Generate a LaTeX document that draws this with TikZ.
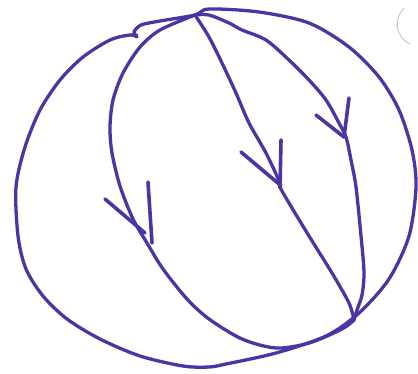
\documentclass[tikz,border=0pt]{standalone}
\begin{document}
\begin{tikzpicture}[x=1pt,y=-1pt,
  pen/.style={draw={rgb,255:red,76;green,52;blue,164},line width=3.3pt,line cap=round,line join=round},
  arrowpen/.style={pen,line width=3.6pt}]
\useasboundingbox (0,0) rectangle (418,373);
\coordinate (T) at (195,15);
\coordinate (B) at (354,320);
% outer circle
\draw[pen] plot[smooth,tension=0.5] coordinates {(137,37)(130,35)(110,40)(83,57)(60,80)(40,110)(25,147)(16,187)(18,236)(26,269)(43,296)(67,319)(100,339)(140,356)(183,366)(209,367)(226,364)(276,353)(326,336)(359,313)(389,279)(409,236)(416,187)(412,150)(399,110)(379,77)(349,47)(309,23)(259,12)(209,9)(T)(160,21)(141,25)(134,32)(137,36)};
% left curve
\draw[pen] plot[smooth,tension=0.5] coordinates {(T)(160,30)(140,47)(123,73)(113,100)(110,127)(112,153)(120,186)(133,219)(147,243)(163,269)(187,299)(209,319)(242,339)(276,348)(309,343)(342,329)(B)};
% middle line
\draw[pen] plot[smooth,tension=0.5] coordinates {(T)(209,37)(222,63)(236,93)(249,123)(266,153)(280,183)(282,191)(309,236)(332,273)(349,303)(B)};
% right curve
\draw[pen] plot[smooth,tension=0.5] coordinates {(T)(209,15)(229,23)(242,30)(266,40)(289,60)(309,80)(326,100)(339,123)(346,137)(351,160)(356,187)(361,236)(364,272)(362,295)(357,310)(B)};
% arrowheads
\draw[arrowpen] (105,199) -- (145,233);
\draw[arrowpen] (148,182) -- (152,243);
\draw[arrowpen] (241,152) -- (279,184);
\draw[arrowpen] (281,140) -- (280,188);
\draw[arrowpen] (316,115) -- (344,137);
\draw[arrowpen] (349,98) -- (344,137);
% faint stray mark
\draw[gray!60,line width=0.6pt] (404,8) .. controls (394,18) and (394,36) .. (410,44);
\end{tikzpicture}
\end{document}
